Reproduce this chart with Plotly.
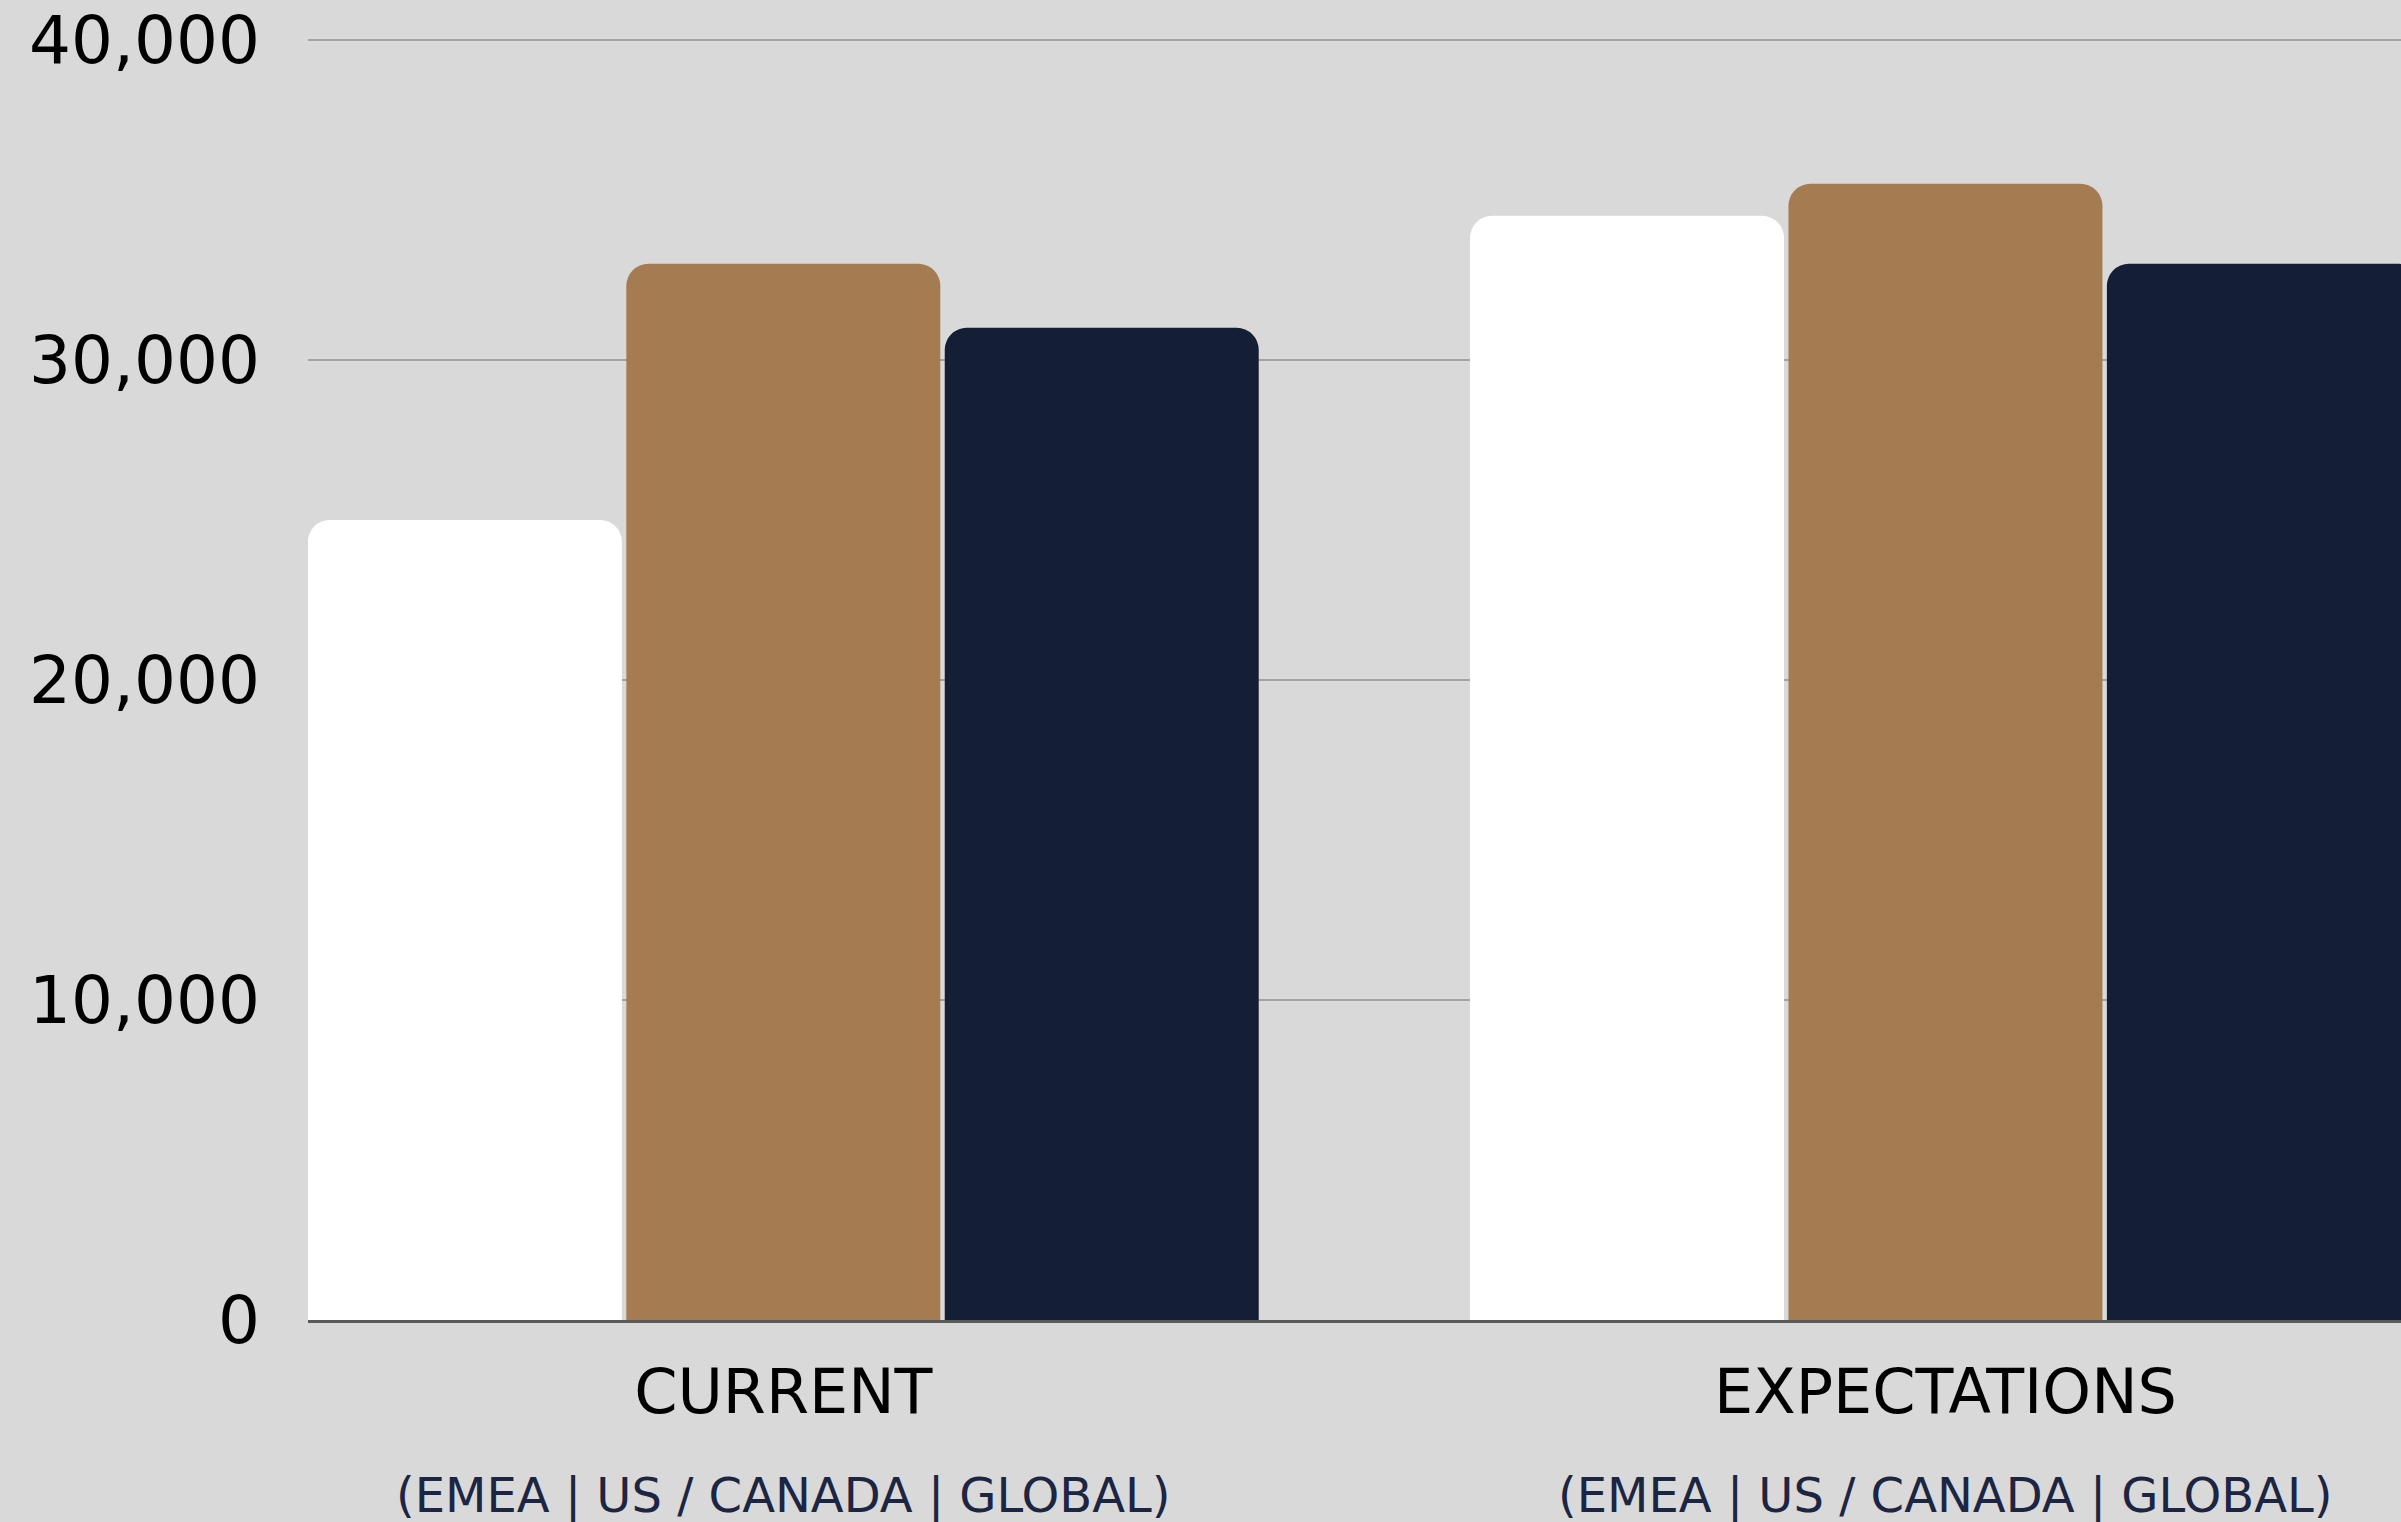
import plotly.graph_objects as go

categories = ["CURRENT", "EXPECTATIONS"]
subtitles = ["(EMEA | US / CANADA | GLOBAL)", "(EMEA | US / CANADA | GLOBAL)"]
series_names = ["EMEA", "US / CANADA", "GLOBAL"]
emea = [25000, 34500]
us_canada = [33000, 35500]
global_vals = [31000, 33000]
colors = ["#ffffff", "#a57b51", "#141e35"]
y_ticks = [0, 10000, 20000, 30000, 40000]

fig = go.Figure()
for name, vals, col in zip(series_names, [emea, us_canada, global_vals], colors):
    fig.add_trace(go.Bar(x=categories, y=vals, name=name,
                         marker=dict(color=col, line=dict(width=0), cornerradius=22)))

for cat, sub in zip(categories, subtitles):
    fig.add_annotation(x=cat, y=0, xref="x", yref="paper", text=sub,
                       showarrow=False, yshift=-175, yanchor="middle",
                       font=dict(family="DejaVu Sans", size=48, color="#1c2541"))

fig.update_layout(
    width=2401, height=1522,
    margin=dict(l=308, r=0, t=35, b=202),
    paper_bgcolor="#d9d9d9", plot_bgcolor="#d9d9d9",
    barmode="group", bargap=0.178, bargroupgap=0.014,
    showlegend=False,
    font=dict(family="DejaVu Sans", color="#000000"),
)
fig.update_xaxes(type="category", range=[-0.409, 1.392], showgrid=False,
                 showline=True, linecolor="#595959", linewidth=3,
                 ticks="", tickfont=dict(size=62, color="#000000"),
                 ticklabelstandoff=16)
fig.update_yaxes(range=[0, 40150], tickvals=y_ticks, tickformat=",d",
                 showgrid=True, gridcolor="#a3a3a3", gridwidth=2,
                 zeroline=False, showline=False, ticks="",
                 tickfont=dict(size=66, color="#000000"),
                 ticklabelstandoff=47)

fig.write_html("out.html")
